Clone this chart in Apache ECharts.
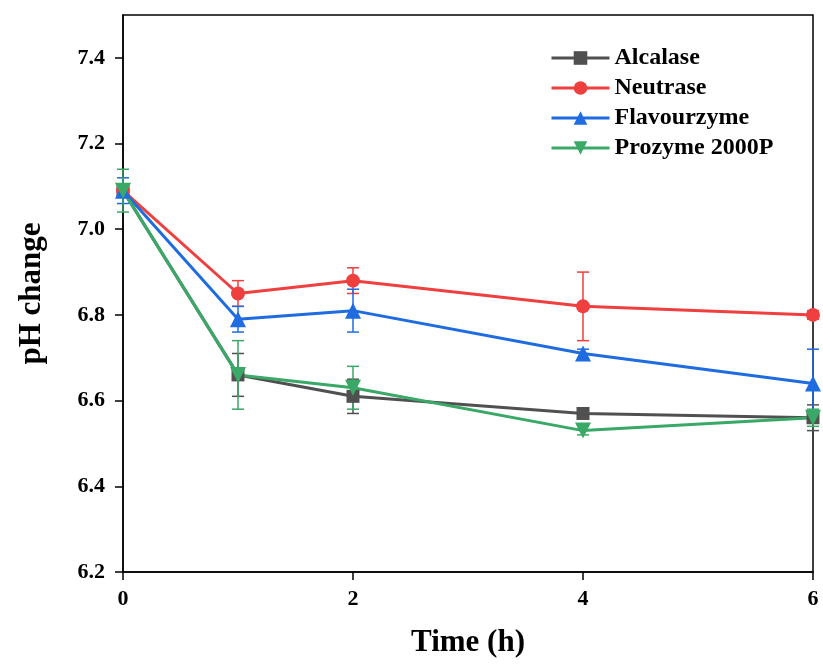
<!DOCTYPE html>
<html>
<head>
<meta charset="utf-8">
<title>pH change</title>
<script src="https://cdn.jsdelivr.net/npm/echarts@6/dist/echarts.min.js"></script>
<style>
  html, body { margin: 0; padding: 0; background: #fff; }
  #chart { width: 823px; height: 665px; }
</style>
</head>
<body>
<div id="chart"></div>
<script>
// time points (h)
const hours = [0, 1, 2, 4, 6]
const yTicks = [6.2, 6.4, 6.6, 6.8, 7.0, 7.2, 7.4]
const xTicks = [0, 2, 4, 6]

const names = ['Alcalase', 'Neutrase', 'Flavourzyme', 'Prozyme 2000P']

const alcalase = [7.09, 6.66, 6.61, 6.57, 6.56]
const alcalaseErr = [0.01, 0.05, 0.04, 0.01, 0.03]
const neutrase = [7.09, 6.85, 6.88, 6.82, 6.80]
const neutraseErr = [0.01, 0.03, 0.03, 0.08, 0.01]
const flavourzyme = [7.09, 6.79, 6.81, 6.71, 6.64]
const flavourzymeErr = [0.03, 0.03, 0.05, 0.01, 0.08]
const prozyme = [7.09, 6.66, 6.63, 6.53, 6.56]
const prozymeErr = [0.05, 0.08, 0.05, 0.01, 0.02]

const colors = ['#505050', '#EF3F3F', '#1F6BE0', '#3AA866']
const symbols = ['rect', 'circle', 'triangle', 'triangle']
const sizes = [13, 14, 16, 16]
const rotates = [0, 0, 0, 180]
const values = [alcalase, neutrase, flavourzyme, prozyme]
const errors = [alcalaseErr, neutraseErr, flavourzymeErr, prozymeErr]

const font = 'Liberation Serif'

const errRender = (color) => (params, api) => {
  const x = api.value(0)
  const top = api.coord([x, api.value(2)])
  const bot = api.coord([x, api.value(1)])
  const w = 6
  const style = { stroke: color, lineWidth: 1.5 }
  return {
    type: 'group',
    children: [
      { type: 'line', shape: { x1: top[0], y1: top[1], x2: bot[0], y2: bot[1] }, style },
      { type: 'line', shape: { x1: top[0] - w, y1: top[1], x2: top[0] + w, y2: top[1] }, style },
      { type: 'line', shape: { x1: bot[0] - w, y1: bot[1], x2: bot[0] + w, y2: bot[1] }, style }
    ]
  }
}

const series = []
names.forEach((name, i) => {
  series.push({
    name: name + ' err',
    type: 'custom',
    renderItem: errRender(colors[i]),
    data: hours.map((h, j) => [h, values[i][j] - errors[i][j], values[i][j] + errors[i][j]]),
    encode: { x: 0, y: [1, 2] },
    z: 2,
    silent: true
  })
  series.push({
    name,
    type: 'line',
    data: hours.map((h, j) => [h, values[i][j]]),
    color: colors[i],
    symbol: symbols[i],
    symbolRotate: rotates[i],
    symbolSize: sizes[i],
    lineStyle: { width: 3 },
    clip: false,
    z: 3
  })
})

const chart = echarts.init(document.getElementById('chart'))
chart.setOption({
  animation: false,
  grid: {
    left: 123,
    right: 10,
    top: 15,
    bottom: 93,
    show: true,
    borderColor: '#000',
    borderWidth: 1.5
  },
  legend: {
    data: names,
    orient: 'vertical',
    left: 550,
    top: 46,
    padding: 0,
    itemWidth: 58,
    itemHeight: 17,
    itemGap: 6,
    lineStyle: { width: 3 },
    textStyle: { fontFamily: font, fontWeight: 'bold', fontSize: 24, color: '#000', lineHeight: 24 }
  },
  xAxis: {
    type: 'value',
    min: 0,
    max: 6,
    interval: 2,
    name: 'Time (h)',
    nameLocation: 'middle',
    nameGap: 55,
    nameTextStyle: { fontFamily: font, fontWeight: 'bold', fontSize: 31, color: '#000' },
    axisLine: { lineStyle: { color: '#000', width: 1.5 } },
    axisTick: { length: 8, lineStyle: { color: '#000', width: 1.5 }, customValues: xTicks },
    axisLabel: { margin: 16, fontFamily: font, fontWeight: 'bold', fontSize: 22, color: '#000', customValues: xTicks },
    splitLine: { show: false }
  },
  yAxis: {
    type: 'value',
    min: 6.2,
    max: 7.5,
    interval: 0.2,
    name: 'pH change',
    nameLocation: 'middle',
    nameGap: 76,
    nameTextStyle: { fontFamily: font, fontWeight: 'bold', fontSize: 31, color: '#000' },
    axisLine: { show: true, lineStyle: { color: '#000', width: 1.5 } },
    axisTick: { show: true, length: 8, lineStyle: { color: '#000', width: 1.5 }, customValues: yTicks },
    axisLabel: {
      margin: 18,
      fontFamily: font,
      fontWeight: 'bold',
      fontSize: 22,
      color: '#000',
      customValues: yTicks,
      formatter: (v) => v.toFixed(1)
    },
    splitLine: { show: false }
  },
  series
})
</script>
</body>
</html>
